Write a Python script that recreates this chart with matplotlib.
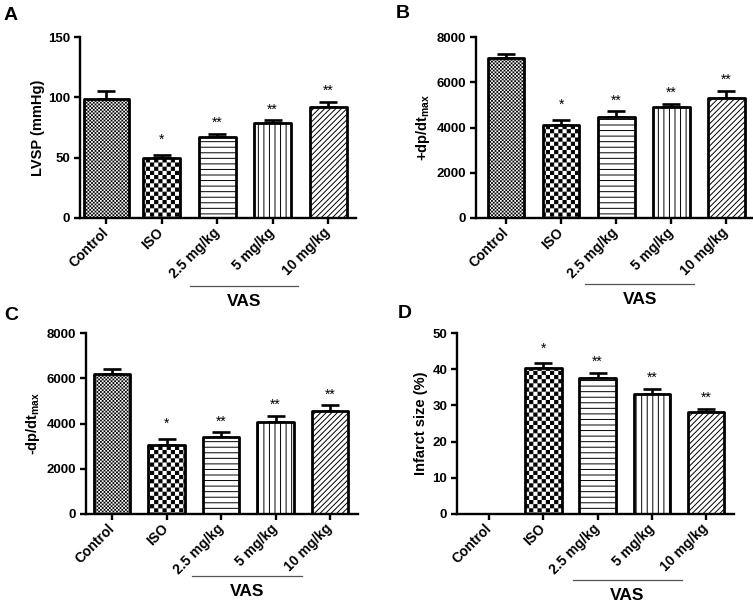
import numpy as np
import matplotlib
matplotlib.use("Agg")
import matplotlib.pyplot as plt
import matplotlib.hatch as mhatch
import matplotlib.transforms as mtransforms
from matplotlib.path import Path

# ---------------- data ----------------
categories = ['Control', 'ISO', '2.5 mg/kg', '5 mg/kg', '10 mg/kg']

lvsp_mean = [99, 49.5, 67.5, 78.5, 92]
lvsp_err = [6, 2.5, 2.5, 2.5, 4.5]

dpdt_pos_mean = [7080, 4100, 4480, 4900, 5300]
dpdt_pos_err = [190, 220, 235, 150, 310]

dpdt_neg_mean = [6200, 3060, 3400, 4050, 4540]
dpdt_neg_err = [220, 265, 205, 295, 265]

infarct_mean = [0, 40.4, 37.5, 33.2, 28.1]
infarct_err = [0, 1.2, 1.4, 1.3, 1.0]

sig_labels = ['', '*', '**', '**', '**']

lvsp_ticks = [0, 50, 100, 150]
dpdt_ticks = [0, 2000, 4000, 6000, 8000]
infarct_ticks = [0, 10, 20, 30, 40, 50]

# ---------------- style ----------------
HATCH_LW = 0.7
plt.rcParams['font.family'] = ['Liberation Sans', 'DejaVu Sans']
plt.rcParams['font.weight'] = 'bold'
plt.rcParams['axes.labelweight'] = 'bold'
plt.rcParams['hatch.linewidth'] = HATCH_LW
plt.rcParams['hatch.color'] = 'black'
plt.rcParams['mathtext.fontset'] = 'custom'
plt.rcParams['mathtext.rm'] = 'Liberation Sans:bold'
plt.rcParams['mathtext.bf'] = 'Liberation Sans:bold'
plt.rcParams['mathtext.it'] = 'Liberation Sans:bold'


class _Checker(mhatch.HatchPatternBase):
    """Filled checkerboard hatch."""
    char = 'o'
    periods = 12

    def __init__(self, hatch, density):
        n = self.periods
        self.num_vertices = (2 * n * n * 5) if hatch.count(self.char) > 0 else 0

    def set_vertices_and_codes(self, vertices, codes):
        n = self.periods
        s = 1.0 / (2 * n)
        d = HATCH_LW / 2.0 / 72.0
        verts = []
        for j in range(2 * n):
            for i in range(n):
                x0 = 2 * i * s + (j % 2) * s + d
                y0 = j * s + d
                x1 = x0 + s - 2 * d
                y1 = y0 + s - 2 * d
                verts.extend([(x0, y0), (x1, y0), (x1, y1), (x0, y1), (x0, y0)])
        vertices[:] = np.array(verts)
        codes[:] = [Path.MOVETO, Path.LINETO, Path.LINETO, Path.LINETO,
                    Path.CLOSEPOLY] * (2 * n * n)


class _CoarseChecker(_Checker):
    char = 'o'
    periods = 12


class _FineChecker(_Checker):
    char = 'O'
    periods = 28


mhatch._hatch_types[:] = [t for t in mhatch._hatch_types
                          if t not in (mhatch.SmallCircles, mhatch.LargeCircles)]
mhatch._hatch_types.extend([_CoarseChecker, _FineChecker])

hatches = ['O', 'o', '---', '|||', '//////']

W, H = 753, 603
fig = plt.figure(figsize=(W / 100, H / 100), dpi=100)


def px_axes(l, r, t, b):
    return fig.add_axes([l / W, 1 - b / H, (r - l) / W, (b - t) / H])


def panel(ax, means, errs, ticks, ylabel, xlim, widths, vas_x, vas_line_y,
          vas_text_y, letter, letter_pos, labelpad):
    x = np.arange(len(categories))
    m = np.array(means, dtype=float)
    e = np.array(errs, dtype=float)
    show = m > 0
    ax.errorbar(x[show], m[show], yerr=[np.zeros(show.sum()), e[show]],
                fmt='none', ecolor='black', elinewidth=1.9, capsize=6.5,
                capthick=1.9, zorder=1)
    bars = ax.bar(x, m, width=widths, color='white', edgecolor='black',
                  linewidth=2.0, zorder=2)
    for b, h in zip(bars, hatches):
        b.set_hatch(h)
        b.set_joinstyle('round')
    for xi, mi, ei, s in zip(x, m, e, sig_labels):
        if s:
            off = 8.0 if len(s) == 1 else 5.0
            ax.annotate(s, (xi, mi + ei), xytext=(0, off),
                        textcoords='offset points', ha='center',
                        va='baseline', fontsize=10, fontweight='normal')
    ax.set_xlim(*xlim)
    ax.set_ylim(ticks[0], ticks[-1])
    ax.set_yticks(ticks)
    ax.set_xticks(x)
    ax.set_xticklabels(categories, rotation=45, ha='right', va='center',
                       rotation_mode='anchor')
    for sp in ['top', 'right']:
        ax.spines[sp].set_visible(False)
    for sp in ['left', 'bottom']:
        ax.spines[sp].set_linewidth(1.7)
    ax.tick_params(axis='both', direction='out', length=4, width=1.7,
                   labelsize=9.5, pad=3)
    ax.tick_params(axis='x', pad=5, labelsize=10)
    ax.set_ylabel(ylabel, fontsize=10.5, labelpad=labelpad)
    trans = mtransforms.blended_transform_factory(ax.transData, ax.transAxes)
    ax.plot(vas_x, [vas_line_y, vas_line_y], color='#555555', lw=0.9,
            transform=trans, clip_on=False)
    ax.text(np.mean(vas_x), vas_text_y, 'VAS', transform=trans, ha='center',
            va='center', fontsize=12.5, fontweight='bold')
    fig.text(letter_pos[0] / W, 1 - letter_pos[1] / H, letter, fontsize=14,
             fontweight='bold', ha='left', va='center')


axA = px_axes(80, 356, 37, 218)
panel(axA, lvsp_mean, lvsp_err, lvsp_ticks, 'LVSP (mmHg)', (-0.47, 4.5),
      [0.81, 0.67, 0.67, 0.67, 0.67], [1.51, 3.46], -0.376, -0.46, 'A',
      (4, 15), 2)

axB = px_axes(476, 752, 37, 218)
panel(axB, dpdt_pos_mean, dpdt_pos_err, dpdt_ticks, r'+dp/dt$_{\mathrm{max}}$',
      (-0.545, 4.47), 0.67, [1.44, 3.42], -0.365, -0.453, 'B', (396, 14), 3)

axC = px_axes(86, 358, 333, 514)
panel(axC, dpdt_neg_mean, dpdt_neg_err, dpdt_ticks, r'-dp/dt$_{\mathrm{max}}$',
      (-0.48, 4.51), 0.67, [1.47, 3.49], -0.343, -0.43, 'C', (4, 315), 3)

axD = px_axes(457, 734, 333, 514)
panel(axD, infarct_mean, infarct_err, infarct_ticks, 'Infarct size (%)',
      (-0.59, 4.51), 0.67, [1.55, 3.55], -0.365, -0.448, 'D', (398, 313), 3)

fig.savefig('out.png', dpi=100)
